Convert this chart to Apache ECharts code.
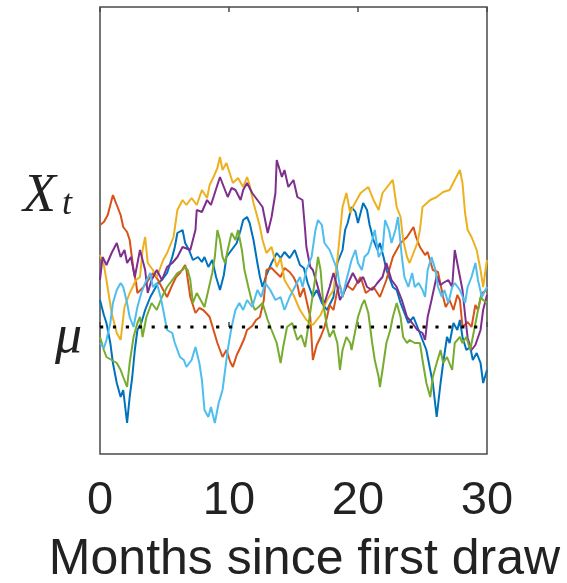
<!DOCTYPE html>
<html lang="en">
<head>
  <meta charset="UTF-8">
  <title>Months since first draw</title>
  <script src="https://cdn.jsdelivr.net/npm/echarts@6.0.0/dist/echarts.min.js"></script>
  <style>
    html, body { margin: 0; padding: 0; background: #fff; }
    #chart { width: 567px; height: 583px; }
  </style>
</head>
<body>
  <div id="chart"></div>
  <script type="text/javascript">
    // x: months since first draw, y: level relative to mu (mu = 0)
    const xTicks = [0, 10, 20, 30];
    const muLevel = 0;
    const xtLevel = 13;

    const blueDraw = [
      [0, 2.7], [0.3, 1.2], [0.5, 0.4], [0.8, -1.6], [1.0, -3.6], [1.3, -5.6], [1.6, -7.0], [1.8, -6.3],
      [2.1, -9.6], [2.3, -7.0], [2.5, -5.0], [2.7, -2.3], [2.9, -0.3], [3.2, 0.4], [3.5, 1.7], [3.9, 3.0],
      [4.2, 3.7], [4.5, 4.4], [4.8, 4.7], [5.2, 5.4], [5.6, 7.0], [5.8, 8.0], [6.0, 9.4], [6.4, 9.7],
      [6.6, 8.4], [6.9, 7.7], [7.2, 6.7], [7.6, 7.0], [7.9, 6.5], [8.1, 7.0], [8.4, 6.0], [8.7, 6.7],
      [9.0, 5.0], [9.3, 3.7], [9.6, 5.2], [9.8, 7.0], [10.2, 7.7], [10.6, 8.4], [10.9, 9.7], [11.1, 10.7],
      [11.4, 11.0], [11.6, 10.4], [11.9, 8.7], [12.2, 6.4], [12.4, 5.0], [12.6, 4.0], [12.9, 5.2], [13.3, 6.4],
      [13.7, 7.4], [14.0, 6.9], [14.3, 7.5], [14.7, 6.9], [15.1, 7.7], [15.5, 6.2], [15.8, 5.9], [16.1, 4.4],
      [16.5, 3.0], [16.8, 3.7], [17.2, 2.4], [17.6, 1.7], [18.1, 3.0], [18.4, 6.4], [18.8, 7.7], [19.0, 9.7],
      [19.2, 10.4], [19.5, 12.0], [19.8, 11.5], [20.0, 10.4], [20.4, 12.4], [20.7, 11.7], [20.9, 10.2], [21.2, 8.7],
      [21.5, 7.7], [21.7, 8.4], [22.0, 6.9], [22.2, 5.7], [22.5, 4.7], [22.7, 4.0], [23.0, 3.7], [23.3, 2.4],
      [23.6, 1.4], [23.9, 0.4], [24.3, 1.0], [24.7, -0.3], [25.0, -1.3], [25.3, -2.3], [25.6, -4.3], [25.8, -5.6],
      [26.1, -9.0], [26.4, -5.6], [26.6, -3.6], [26.9, -1.0], [27.1, -1.6], [27.4, 0.4], [27.7, -0.3], [27.9, 0.7],
      [28.1, -1.0], [28.4, -2.3], [28.7, -2.0], [28.9, -3.3], [29.2, -2.6], [29.5, -3.6], [29.7, -5.6], [30, -4.3]
    ];

    const orangeDraw = [
      [0, 10.2], [0.3, 10.5], [0.6, 11.2], [1.0, 13.2], [1.3, 12.2], [1.6, 11.2], [1.8, 10.0], [2.1, 9.5],
      [2.3, 8.7], [2.6, 5.7], [2.8, 4.4], [2.9, 3.4], [3.3, 3.9], [3.6, 4.4], [4.1, 5.4], [4.5, 4.7],
      [4.9, 3.7], [5.2, 3.0], [5.6, 4.2], [5.9, 5.0], [6.2, 5.4], [6.6, 6.2], [6.7, 5.7], [7.0, 3.0],
      [7.4, 1.4], [7.7, 1.9], [8.0, 1.7], [8.3, 1.3], [8.5, 1.0], [8.8, -0.3], [9.1, -1.6], [9.3, -2.3],
      [9.5, -3.0], [9.8, -2.3], [10.1, -3.5], [10.3, -4.0], [10.6, -2.8], [10.9, -2.0], [11.2, -1.1], [11.4, -0.3],
      [11.8, 0.1], [12.1, 0.7], [12.4, 1.0], [12.7, 2.7], [12.9, 5.7], [13.3, 5.9], [13.6, 5.5], [14.0, 5.0],
      [14.3, 5.9], [14.7, 5.5], [15.0, 5.0], [15.3, 4.2], [15.5, 3.0], [15.8, 3.9], [16.0, 2.7], [16.3, 1.0],
      [16.5, -3.3], [16.8, -1.8], [17.1, -1.0], [17.4, 0], [17.6, 1.0], [17.8, 2.2], [18.1, 1.7], [18.4, 3.7],
      [18.6, 4.2], [18.8, 3.0], [19.1, 4.2], [19.6, 3.7], [20.2, 5.0], [20.6, 3.4], [21.2, 4.0], [21.7, 3.0],
      [22.2, 4.7], [22.7, 7.0], [23.3, 8.4], [23.8, 9.0], [24.3, 10.0], [24.5, 9.0], [24.8, 8.0], [25.2, 7.2],
      [25.4, 7.5], [25.8, 5.7], [26.2, 5.5], [26.6, 3.0], [26.8, 2.0], [27.1, 2.7], [27.4, 1.7], [27.7, 3.2],
      [27.9, 2.7], [28.1, 0], [28.5, 0.5], [28.8, 0], [29.1, 2.2], [29.3, 1.7], [29.6, 3.4], [30, 3.7]
    ];

    const yellowDraw = [
      [0, 7.2], [0.3, 6.2], [0.5, 4.7], [0.9, 1.4], [1.3, -0.6], [1.6, -1.3], [1.9, 2.0], [2.3, 3.4],
      [2.8, 4.7], [3.1, 5.0], [3.3, 7.7], [3.5, 9.0], [3.7, 6.4], [4.1, 5.7], [4.4, 5.0], [4.9, 6.7],
      [5.2, 7.4], [5.7, 9.0], [6.0, 11.7], [6.4, 12.7], [6.7, 12.2], [7.1, 12.9], [7.5, 12.2], [7.9, 13.7],
      [8.3, 12.9], [8.5, 14.2], [8.8, 15.0], [9.1, 15.9], [9.3, 17.0], [9.5, 15.7], [9.8, 16.4], [10.1, 15.2],
      [10.3, 14.4], [10.7, 14.9], [11.1, 14.0], [11.4, 15.0], [11.6, 14.2], [11.9, 12.4], [12.2, 11.0], [12.4, 10.0],
      [12.6, 8.7], [12.9, 7.4], [13.3, 8.0], [13.7, 6.0], [14.0, 6.9], [14.3, 4.7], [15.0, 3.2], [15.5, 1.7],
      [16.0, 0.7], [16.5, 0.2], [17.1, 1.2], [17.6, 2.7], [18.1, 3.7], [18.4, 6.7], [18.8, 12.0], [19.1, 13.4],
      [19.4, 11.4], [19.6, 12.0], [20.2, 13.4], [20.5, 13.7], [20.8, 14.0], [21.2, 12.7], [21.6, 11.7], [21.9, 13.4],
      [22.5, 14.4], [22.7, 14.7], [23.0, 12.0], [23.3, 11.0], [23.5, 8.7], [23.8, 7.0], [24.0, 6.4], [24.3, 7.4],
      [24.6, 8.4], [24.8, 9.7], [25.0, 12.0], [25.6, 12.7], [26.1, 13.0], [26.6, 13.5], [27.1, 13.7], [27.5, 14.7],
      [27.9, 15.7], [28.1, 14.4], [28.3, 11.4], [28.5, 9.7], [28.8, 9.0], [29.2, 7.7], [29.5, 5.7], [29.7, 4.0],
      [30, 6.7]
    ];

    const purpleDraw = [
      [0, 4.7], [0.2, 7.0], [0.5, 6.2], [0.9, 7.4], [1.3, 8.4], [1.6, 7.0], [1.9, 7.7], [2.1, 6.4],
      [2.4, 7.0], [2.7, 5.0], [3.1, 7.7], [3.5, 5.7], [3.7, 3.4], [4.0, 4.7], [4.4, 5.7], [4.8, 4.7],
      [5.2, 6.0], [5.6, 6.4], [6.0, 7.0], [6.4, 8.0], [7.0, 7.7], [7.4, 9.7], [7.5, 11.7], [7.9, 11.5],
      [8.3, 12.7], [8.6, 12.2], [8.9, 13.4], [9.3, 15.0], [9.6, 14.0], [9.9, 13.0], [10.2, 13.9], [10.5, 13.7],
      [10.9, 12.7], [11.1, 13.7], [11.4, 14.4], [11.8, 13.4], [12.2, 12.7], [12.6, 12.0], [12.8, 10.7], [13.0, 9.4],
      [13.3, 11.0], [13.6, 13.4], [13.7, 16.7], [14.1, 15.0], [14.3, 15.7], [14.6, 14.0], [15.0, 14.7], [15.3, 13.0],
      [15.7, 12.7], [15.9, 9.7], [16.0, 8.0], [16.3, 6.0], [16.5, 5.7], [16.8, 4.4], [17.1, 3.0], [17.4, 2.4],
      [17.8, 4.0], [18.1, 5.4], [18.4, 4.0], [18.6, 2.7], [19.1, 4.0], [19.6, 5.4], [20.0, 4.4], [20.4, 5.0],
      [20.7, 4.0], [21.1, 3.7], [21.5, 4.4], [21.9, 5.0], [22.2, 6.4], [22.6, 4.7], [23.0, 4.0], [23.4, 2.7],
      [23.8, 1.0], [24.2, 0.4], [24.6, -0.3], [25.0, -0.6], [25.2, -1.3], [25.4, 1.0], [25.7, 2.7], [26.1, 5.1],
      [26.4, 4.2], [26.6, 4.4], [27.0, 4.7], [27.3, 4.0], [27.5, 7.7], [27.8, 5.7], [28.1, 3.7], [28.3, 1.2],
      [28.5, -1.1], [28.8, -2.3], [29.1, -1.8], [29.5, -0.3], [29.7, 1.7], [30, 3.2]
    ];

    const greenDraw = [
      [0, -1.0], [0.3, -2.3], [0.5, -3.0], [0.9, -3.3], [1.3, -3.6], [1.6, -4.3], [1.8, -5.0], [2.1, -6.0],
      [2.3, -3.6], [2.6, -1.0], [2.9, 0.4], [3.1, 1.0], [3.3, -1.0], [3.6, 1.0], [4.0, 2.4], [4.4, 1.7],
      [4.8, 3.0], [5.2, 4.0], [5.6, 4.7], [6.0, 5.4], [6.4, 5.7], [6.6, 6.0], [6.8, 5.7], [7.0, 4.7],
      [7.2, 2.4], [7.5, 3.4], [7.8, 2.7], [8.1, 2.0], [8.4, 3.7], [8.7, 5.4], [8.9, 7.0], [9.1, 9.7],
      [9.3, 8.7], [9.5, 7.0], [9.7, 6.4], [9.9, 7.7], [10.2, 9.4], [10.5, 8.7], [10.7, 9.7], [11.0, 7.7],
      [11.2, 5.7], [11.5, 4.0], [11.8, 2.4], [12.0, 1.7], [12.3, 2.0], [12.6, 2.4], [13.0, 0.7], [13.3, -0.3],
      [13.7, -1.6], [14.0, -3.6], [14.2, -2.0], [14.5, 0], [14.9, 0.4], [15.3, -1.3], [15.6, -0.8], [15.9, -2.0],
      [16.1, -0.3], [16.4, 2.4], [16.7, 5.0], [16.9, 7.0], [17.1, 5.7], [17.3, 2.4], [17.6, 0], [17.8, -1.0],
      [18.1, -0.3], [18.4, -1.6], [18.6, -4.3], [18.8, -2.3], [19.1, -1.0], [19.4, -1.6], [19.5, -2.3], [19.8, -0.3],
      [20.0, 1.0], [20.3, 2.2], [20.5, 2.7], [20.8, 1.4], [21.1, -1.6], [21.3, -3.3], [21.6, -5.0], [21.7, -6.0],
      [21.9, -4.3], [22.2, -1.6], [22.5, -0.3], [22.7, 1.0], [23.0, 2.4], [23.3, 1.0], [23.5, -1.0], [23.8, -1.6],
      [24.0, -1.3], [24.4, -1.6], [24.8, -1.6], [25.0, -3.3], [25.3, -5.6], [25.6, -7.0], [25.8, -5.0], [26.1, -3.6],
      [26.4, -2.3], [26.6, -3.6], [26.9, -3.0], [27.3, -4.3], [27.5, -1.6], [27.9, -1.0], [28.1, -1.6], [28.4, -1.0],
      [28.7, -2.3], [28.9, -1.0], [29.2, 1.0], [29.5, 3.0], [29.7, 2.7], [30, 2.4]
    ];

    const lightBlueDraw = [
      [0, -1.6], [0.3, -2.1], [0.5, -1.3], [0.8, 0.4], [1.0, 2.4], [1.3, 3.7], [1.6, 4.4], [1.8, 4.0],
      [2.1, 2.4], [2.3, 1.0], [2.6, 0], [2.9, 2.0], [3.2, 3.4], [3.5, 4.4], [3.9, 5.4], [4.1, 4.0],
      [4.4, 4.4], [4.7, 3.0], [4.9, 1.7], [5.2, -0.3], [5.6, -0.6], [5.8, -1.6], [6.2, -3.0], [6.5, -3.3],
      [6.7, -4.0], [7.1, -3.3], [7.4, -2.0], [7.7, -3.6], [7.9, -5.3], [8.1, -8.3], [8.4, -9.0], [8.6, -8.0],
      [8.9, -9.6], [9.2, -7.6], [9.5, -6.3], [9.7, -4.3], [9.9, -2.3], [10.2, 0], [10.5, 1.7], [10.8, 2.4],
      [11.1, 1.7], [11.4, 2.7], [11.8, 2.0], [12.2, 3.7], [12.5, 3.0], [12.8, 4.4], [13.2, 3.7], [13.6, 2.7],
      [14.0, 3.0], [14.3, 1.7], [14.7, 3.0], [15.1, 4.0], [15.5, 5.0], [15.7, 4.0], [16.0, 5.7], [16.4, 7.0],
      [16.7, 9.7], [16.9, 10.7], [17.2, 10.2], [17.4, 8.4], [17.8, 7.7], [18.1, 6.7], [18.4, 5.7], [18.6, 4.0],
      [18.8, 3.0], [19.1, 4.7], [19.5, 6.7], [19.8, 7.7], [20.0, 6.4], [20.3, 5.7], [20.5, 7.0], [20.8, 7.4],
      [21.1, 8.7], [21.3, 9.7], [21.6, 7.0], [21.9, 7.7], [22.1, 10.7], [22.4, 9.7], [22.6, 8.4], [22.9, 9.7],
      [23.1, 11.0], [23.4, 7.0], [23.6, 5.0], [23.9, 4.0], [24.2, 5.4], [24.4, 4.0], [24.7, 4.4], [25.0, 3.7],
      [25.2, 3.0], [25.4, 5.7], [25.7, 7.0], [26.0, 5.7], [26.2, 4.0], [26.5, 3.0], [26.7, 3.7], [27.0, 2.4],
      [27.3, 4.0], [27.5, 4.4], [27.9, 3.7], [28.3, 2.4], [28.5, 4.0], [28.8, 5.0], [29.1, 6.4], [29.3, 4.7],
      [29.6, 3.0], [30, 4.0]
    ];

    // MATLAB default line order
    const draws = [blueDraw, orangeDraw, yellowDraw, purpleDraw, greenDraw, lightBlueDraw];
    const drawColors = ['#0072BD', '#D95319', '#EDB120', '#7E2F8E', '#77AC30', '#4DBEEE'];

    const chart = echarts.init(document.getElementById('chart'), null, { renderer: 'canvas' });

    const axisGray = '#4a4a4a';
    const textColor = '#222';

    const series = draws.map((d, i) => ({
      type: 'line',
      data: d,
      showSymbol: false,
      symbol: 'none',
      lineStyle: { color: drawColors[i], width: 2 },
      z: 2 + i,
      silent: true,
    }));

    series.push({
      type: 'line',
      data: [[xTicks[0], muLevel], [xTicks[xTicks.length - 1], muLevel]],
      showSymbol: false,
      symbol: 'none',
      lineStyle: { color: '#000', width: 3.2, type: [3.2, 9.7], cap: 'butt' },
      z: 20,
      silent: true,
    });

    const option = {
      animation: false,
      backgroundColor: '#fff',
      grid: {
        left: 100, right: 80, top: 7, bottom: 129,
        outerBoundsMode: 'none',
        containLabel: false,
        show: true, borderColor: axisGray, borderWidth: 1.5, backgroundColor: 'transparent',
      },
      xAxis: [{
        type: 'value',
        min: 0, max: 30, interval: 10,
        position: 'bottom',
        axisLine: { show: false },
        axisTick: { show: true, inside: true, length: 5, lineStyle: { color: axisGray, width: 1.5 } },
        splitLine: { show: false },
        axisLabel: {
          margin: 24,
          fontFamily: 'Liberation Sans, Arial, sans-serif',
          fontSize: 47,
          color: textColor,
        },
        name: 'Months since first draw',
        nameLocation: 'middle',
        nameGap: 81,
        nameTextStyle: {
          fontFamily: 'Liberation Sans, Arial, sans-serif',
          fontSize: 50,
          color: textColor,
          padding: [0, 0, 0, 22],
        },
      }, {
        type: 'value',
        min: 0, max: 30, interval: 10,
        position: 'top',
        axisLine: { show: false },
        axisTick: { show: true, inside: true, length: 5, lineStyle: { color: axisGray, width: 1.5 } },
        axisLabel: { show: false },
        splitLine: { show: false },
      }],
      yAxis: {
        type: 'value',
        min: -12.7, max: 32,
        axisLine: { show: false },
        axisTick: { show: false },
        splitLine: { show: false },
        axisLabel: {
          customValues: [muLevel, xtLevel],
          margin: 18,
          formatter: (v) => (v === muLevel ? '{mu|μ}' : '{x|X}{t|t}'),
          rich: {
            mu: {
              fontFamily: 'Liberation Serif, Times New Roman, serif',
              fontStyle: 'italic', fontSize: 54, color: textColor,
              padding: [22, 0, 0, 0],
            },
            x: {
              fontFamily: 'Liberation Serif, Times New Roman, serif',
              fontStyle: 'italic', fontSize: 54, color: textColor,
              padding: [0, 4, 0, 0],
            },
            t: {
              fontFamily: 'Liberation Serif, Times New Roman, serif',
              fontStyle: 'italic', fontSize: 36, color: textColor,
              padding: [16, 10, 0, 2],
            },
          },
        },
      },
      series,
    };

    chart.setOption(option);
  </script>
</body>
</html>
